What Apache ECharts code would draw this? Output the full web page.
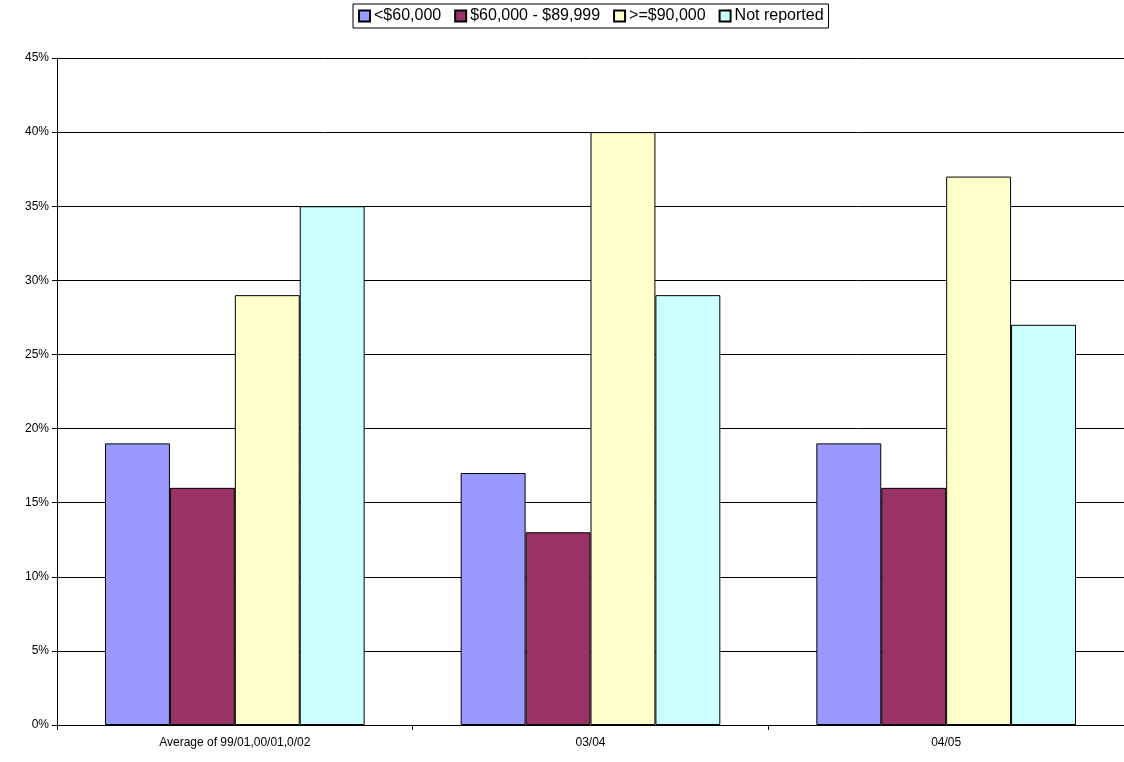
<!DOCTYPE html><html><head><meta charset="utf-8"><script src="https://cdn.jsdelivr.net/npm/echarts@6/dist/echarts.min.js"></script>
<style>html,body{margin:0;background:#fff}#c{width:1124px;height:762px}</style></head><body><div id="c"></div><script>
const categories=['Average of 99/01,00/01,0/02','03/04','04/05'];
const seriesNames=['<$60,000','$60,000 - $89,999','>=$90,000','Not reported'];
const s1=[19,17,19], s2=[16,13,16], s3=[29,40,37], s4=[35,29,27];
const colors=['#9999ff','#993366','#ffffcc','#ccffff'];
const vals=[s1,s2,s3,s4];
const ch=echarts.init(document.getElementById('c'));
ch.setOption({animation:false,
legend:{top:4,left:353,itemGap:13,itemWidth:11,itemHeight:11,borderColor:'#000',borderWidth:1,padding:[4,5],
 textStyle:{fontFamily:'Liberation Sans',fontSize:16,color:'#000',padding:[0,0,0,-1]},icon:'rect'},
grid:{left:57,right:-8,top:58,bottom:37},
xAxis:{type:'category',data:categories,axisLine:{lineStyle:{color:'#000'}},axisTick:{show:true,length:5,lineStyle:{color:'#000'}},
 axisLabel:{fontFamily:'Liberation Sans',fontSize:12,color:'#000',margin:12}},
yAxis:{type:'value',min:0,max:45,interval:5,axisLine:{show:true,lineStyle:{color:'#000'}},axisTick:{show:true,length:5,lineStyle:{color:'#000'}},
 splitLine:{lineStyle:{color:'#000'}},axisLabel:{formatter:'{value}%',fontFamily:'Liberation Sans',fontSize:12,color:'#000'}},
series:vals.map((d,i)=>({name:seriesNames[i],type:'bar',data:d,barGap:'0%',barCategoryGap:'27%',
 itemStyle:{color:colors[i],borderColor:'#000',borderWidth:1}}))
});
</script></body></html>
